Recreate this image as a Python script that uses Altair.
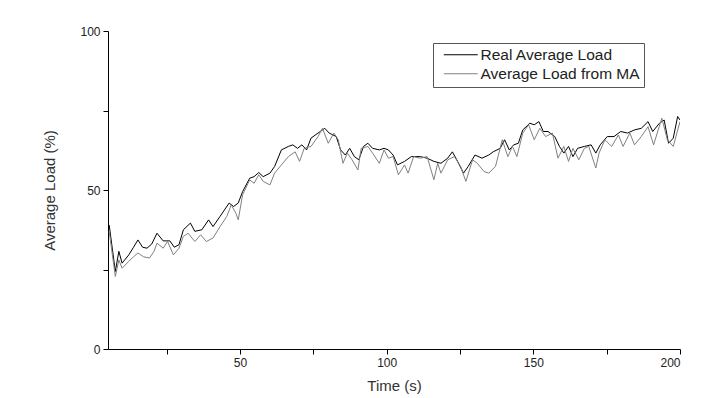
import altair as alt
import pandas as pd

# Real average load (black)
real_t = [5.4, 7.5, 8.7, 9.8, 12.1, 13.7, 15.2, 16.8, 18.3, 19.9, 21.7, 23.8, 26.1, 27.6, 29.2,
          30.7, 33.1, 34.6, 37.0, 39.3, 40.8, 43.2, 46.3, 47.8, 49.4, 50.9, 53.3, 54.8, 56.4, 57.9,
          60.2, 61.8, 64.1, 66.5, 68.0, 69.6, 71.1, 72.7, 74.2, 76.6, 78.9, 80.4, 82.8, 84.3, 85.9,
          87.4, 89.0, 90.5, 92.1, 93.6, 95.2, 97.5, 99.1, 100.6, 102.2, 103.7, 106.1, 108.4, 111.5,
          113.8, 116.1, 118.5, 120.8, 122.4, 123.9, 126.2, 127.8, 130.1, 132.5, 134.8, 136.3, 138.7,
          140.2, 141.8, 143.3, 144.9, 146.4, 148.8, 150.3, 151.9, 153.4, 155.0, 157.3, 158.9, 160.4,
          162.0, 163.5, 165.1, 167.4, 169.7, 171.3, 172.8, 175.2, 177.5, 179.8, 182.1, 184.5, 186.8,
          189.1, 190.7, 193.0, 194.6, 196.1, 197.7, 199.2, 200.0]
real_v = [39, 24.4, 30.7, 27, 29.6, 32, 34.3, 32, 31.7, 33, 36.4, 34, 34, 32, 32.8,
          37.5, 39.6, 37, 37.5, 40.6, 38.5, 41.7, 45.9, 44.8, 45.9, 49.5, 53.7, 54.2, 55.5, 54.2,
          55.3, 57.4, 62.6, 63.7, 64.2, 63.1, 64.2, 62.6, 66.3, 67.9, 69.4, 67.9, 66.8, 62.6, 61,
          63.1, 60.5, 59.5, 63.7, 64.7, 63.1, 62.6, 63.1, 62.6, 61, 57.9, 59, 60.5, 60.5,
          60, 59, 58.4, 60, 62, 59.5, 55.3, 57.4, 61, 60, 61, 62, 63.1,
          65.8, 62.6, 64.2, 64.7, 68.9, 71, 70.5, 71.5, 68.4, 68.4, 66.8, 63.7, 61.6,
          63.7, 60.5, 63.1, 63.7, 64.2, 61.6, 64.2, 66.8, 66.8, 68.4, 67.9, 68.9, 69.4,
          71.5, 68.4, 71, 72, 64.7, 66.3, 73.1, 72]

# Average load from MA (grey)
ma_t = [5.4, 7.5, 8.7, 9.8, 12.1, 13.7, 15.2, 17.1, 19.1, 20.7, 21.7, 23.8, 25.3, 27.3, 29.2,
        30.7, 32.3, 34.6, 36.6, 38.5, 40.8, 43.2, 45.5, 47.0, 48.6, 49.4, 50.9, 53.3, 54.8, 56.4,
        57.9, 60.2, 61.8, 64.1, 66.5, 68.8, 70.3, 71.9, 74.2, 76.6, 78.1, 80.1, 82.0, 83.5, 85.1,
        86.6, 88.2, 90.2, 91.3, 93.6, 95.2, 97.5, 99.1, 100.6, 102.2, 104.0, 106.1, 107.3, 109.2,
        111.5, 113.8, 116.1, 117.4, 118.5, 120.8, 123.1, 125.2, 127.0, 129.3, 130.9, 133.2, 134.8,
        137.1, 139.4, 141.3, 142.9, 144.4, 146.4, 148.4, 150.3, 152.2, 154.2, 156.5, 158.4, 160.4,
        162.0, 163.5, 165.5, 167.4, 168.9, 171.3, 172.4, 174.4, 176.7, 179.0, 180.6, 182.9, 184.5,
        186.8, 189.1, 191.0, 193.8, 195.7, 197.7, 200.0]
ma_v = [37, 22.8, 28, 25.4, 27.6, 29, 30.2, 29, 28.6, 30.7, 33.3, 31.7, 33.8, 29.6, 31.7,
        35.4, 36.4, 33.8, 35.9, 33.8, 34.9, 38.5, 41.7, 45.3, 42.7, 40.6, 48.5, 53.2, 52.1, 54.8,
        52.7, 51.6, 55.3, 57.9, 60.5, 62, 59, 63.1, 63.7, 66.8, 69.4, 64.7, 67.9, 65.8, 58.4,
        61.6, 59.5, 56.3, 63.1, 63.7, 61.6, 58.4, 62.6, 60, 60.5, 54.8, 57.9, 55.3, 60.5,
        60, 60.5, 53.2, 58.4, 55.3, 59.5, 60.5, 57.4, 52.7, 59.5, 58.4, 55.8, 55.3,
        57.4, 65.8, 60.5, 63.7, 60.5, 67.9, 70.5, 65.8, 69.4, 66.8, 67.9, 60, 63.7,
        59, 63.1, 59.5, 63.1, 63.7, 56.9, 61.6, 65.8, 63.7, 67.3, 63.7, 67.9, 64.2,
        66.8, 69.9, 64.2, 72.6, 65.8, 63.7, 71.5]

series_names = ["Real Average Load", "Average Load from MA"]
series_colors = ["#000000", "#808080"]

x_ticks = [25, 50, 75, 100, 125, 150, 175, 200]
y_ticks = [0, 25, 50, 75, 100]

rows = []
for t, v in zip(real_t, real_v):
    rows.append({"t": t, "v": v, "s": series_names[0], "o": 0})
for t, v in zip(ma_t, ma_v):
    rows.append({"t": t, "v": v, "s": series_names[1], "o": 1})
df = pd.DataFrame(rows)

FONT = "Liberation Sans"

chart = alt.Chart(df).mark_line(strokeWidth=1, clip=True).encode(
    x=alt.X("t:Q", title="Time (s)",
            scale=alt.Scale(domain=[5, 200], nice=False, zero=False),
            axis=alt.Axis(values=x_ticks, grid=False,
                          labelExpr="datum.value % 50 == 0 ? datum.label : ''",
                          tickSize=5, labelPadding=3, titlePadding=10)),
    y=alt.Y("v:Q", title="Average Load (%)",
            scale=alt.Scale(domain=[0, 100], nice=False),
            axis=alt.Axis(values=y_ticks, grid=False,
                          labelExpr="datum.value % 50 == 0 ? datum.label : ''",
                          tickSize=5, labelPadding=3, titlePadding=22)),
    color=alt.Color("s:N", sort=series_names,
                    scale=alt.Scale(domain=series_names, range=series_colors),
                    legend=alt.Legend(title=None, orient="none", legendX=325, legendY=12,
                                      strokeColor="#555555", fillColor="white",
                                      padding=4, rowPadding=2,
                                      symbolType="M-3.4,0L3.4,0", symbolSize=100,
                                      symbolStrokeWidth=1, symbolOffset=16,
                                      labelOffset=12, labelFontSize=15.5, labelFont=FONT,
                                      labelColor="#222222")),
    detail="s:N",
    order="o:Q",
).properties(
    width=572, height=318,
    autosize=alt.AutoSizeParams(type="none"),
    padding={"left": 108, "top": 31, "right": 32, "bottom": 49},
).configure_view(
    stroke=None
).configure_axis(
    domainColor="#000000", tickColor="#000000",
    labelFont=FONT, titleFont=FONT,
    labelFontSize=12, titleFontSize=15,
    labelColor="#222222", titleColor="#333333",
    titleFontWeight="normal",
)

chart.save("out.html", embed_options={"renderer": "svg", "actions": False})
